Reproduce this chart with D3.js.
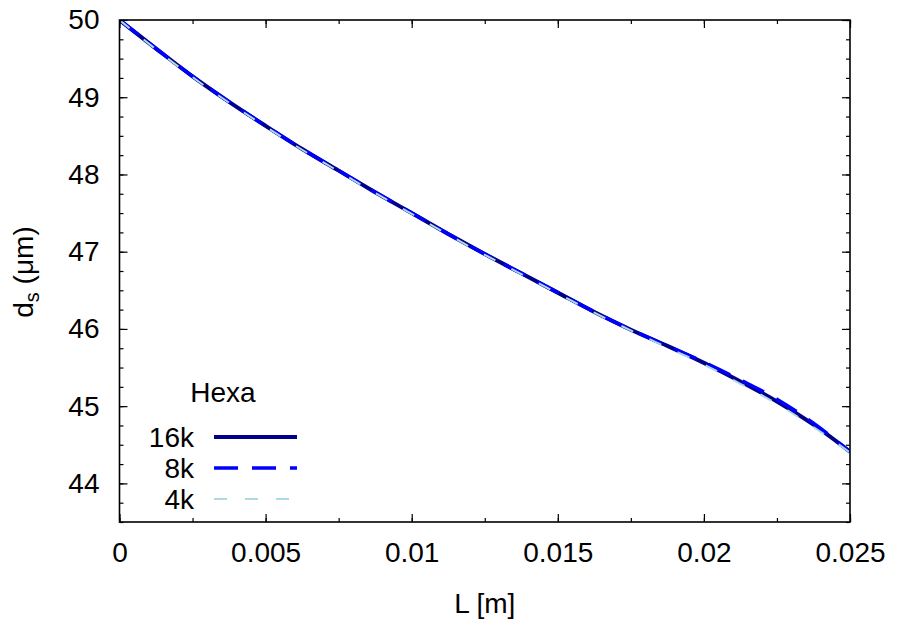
<!DOCTYPE html>
<html><head><meta charset="utf-8">
<script src="https://cdnjs.cloudflare.com/ajax/libs/d3/7.8.5/d3.min.js"></script>
<style>body{margin:0;background:#fff}svg{display:block}text{font-family:"Liberation Sans",Arial,sans-serif;fill:#000}</style>
</head><body>
<svg id="c" width="898" height="621"></svg>
<script>
const L = [0, 0.00125, 0.0025, 0.00375, 0.005, 0.00625, 0.0075, 0.00875, 0.01, 0.01125, 0.0125, 0.01375, 0.015, 0.01625, 0.0175, 0.01875, 0.02, 0.02125, 0.0225, 0.02375, 0.025];
const d16k = [50, 49.63, 49.27, 48.94, 48.63, 48.33, 48.05, 47.77, 47.50, 47.23, 46.97, 46.72, 46.47, 46.22, 45.99, 45.78, 45.56, 45.32, 45.06, 44.76, 44.41];
const d8k  = [50, 49.63, 49.27, 48.94, 48.63, 48.33, 48.05, 47.77, 47.50, 47.23, 46.97, 46.72, 46.47, 46.22, 45.99, 45.78, 45.57, 45.34, 45.09, 44.78, 44.41];
const d4k  = [50, 49.62, 49.26, 48.93, 48.62, 48.32, 48.04, 47.76, 47.49, 47.22, 46.96, 46.71, 46.46, 46.21, 45.98, 45.76, 45.54, 45.29, 45.03, 44.73, 44.40];
const xTicks = [0, 0.005, 0.01, 0.015, 0.02, 0.025];
const xTickLabels = ["0", "0.005", "0.01", "0.015", "0.02", "0.025"];
const yTicks = [44, 45, 46, 47, 48, 49, 50];
const seriesNames = ["16k", "8k", "4k"];

const FS = 28;
const svg = d3.select("#c");
const m = {l: 119.5, r: 850, t: 20, b: 522};
const x = d3.scaleLinear().domain([0, 0.025]).range([m.l, m.r]);
const y = d3.scaleLinear().domain([43.5, 50]).range([m.b, m.t]);

svg.append("defs").append("clipPath").attr("id","clip").append("rect")
  .attr("x", m.l).attr("y", m.t).attr("width", m.r-m.l).attr("height", m.b-m.t);

const series = [
  {name: seriesNames[0], vals: d16k, color: "#00008b", w: 4, dash: null},
  {name: seriesNames[1], vals: d8k, color: "#0000ff", w: 3.5, dash: "24,14"},
  {name: seriesNames[2], vals: d4k, color: "#add8e6", w: 2, dash: "13,18"}
];
const line = d3.line().x((d,i)=>x(L[i])).y(d=>y(d)).curve(d3.curveMonotoneX);
const g = svg.append("g").attr("clip-path","url(#clip)");
series.forEach(s=>{
  g.append("path").attr("d", line(s.vals)).attr("fill","none")
    .attr("stroke", s.color).attr("stroke-width", s.w)
    .attr("stroke-dasharray", s.dash);
});

const xMinor = d3.range(0, 0.0251, 0.0025);
const yMinor = d3.range(43.5, 50.01, 0.25);
const axG = svg.append("g");
const axB = d3.axisBottom(x).tickValues(xTicks).tickSize(-8).tickFormat((d,i)=>xTickLabels[i]).tickPadding(20);
const ab = axG.append("g").attr("transform",`translate(0,${m.b})`).call(axB);
ab.selectAll("text").attr("font-size", FS).attr("font-family","Liberation Sans, Arial, sans-serif");
const axT = d3.axisTop(x).tickValues(xTicks).tickSize(-8).tickFormat("");
axG.append("g").attr("transform",`translate(0,${m.t})`).call(axT);
const axL = d3.axisLeft(y).tickValues(yTicks).tickSize(-8).tickFormat(d3.format("d")).tickPadding(20);
const al = axG.append("g").attr("transform",`translate(${m.l},0)`).call(axL);
al.selectAll("text").attr("font-size", FS).attr("font-family","Liberation Sans, Arial, sans-serif");
const axR = d3.axisRight(y).tickValues(yTicks).tickSize(-8).tickFormat("");
axG.append("g").attr("transform",`translate(${m.r},0)`).call(axR);
axG.append("g").attr("transform",`translate(0,${m.b})`).call(d3.axisBottom(x).tickValues(xMinor).tickSize(-4).tickFormat(""));
axG.append("g").attr("transform",`translate(0,${m.t})`).call(d3.axisTop(x).tickValues(xMinor).tickSize(-4).tickFormat(""));
axG.append("g").attr("transform",`translate(${m.l},0)`).call(d3.axisLeft(y).tickValues(yMinor).tickSize(-4).tickFormat(""));
axG.append("g").attr("transform",`translate(${m.r},0)`).call(d3.axisRight(y).tickValues(yMinor).tickSize(-4).tickFormat(""));
axG.selectAll(".domain").remove();
axG.selectAll(".tick line").attr("stroke","#000").attr("stroke-width",1.2);
svg.append("rect").attr("x", m.l).attr("y", m.t).attr("width", m.r-m.l).attr("height", m.b-m.t)
  .attr("fill","none").attr("stroke","#000").attr("stroke-width",1.6);

svg.append("text").attr("x", (m.l+m.r)/2).attr("y", 613).attr("text-anchor","middle")
  .attr("font-size", FS).text("L [m]");
const yt = svg.append("text").attr("transform","translate(33,272) rotate(-90)")
  .attr("text-anchor","middle").attr("font-size", FS);
yt.append("tspan").text("d");
yt.append("tspan").attr("font-size", 20).attr("dy", 6).text("s");
yt.append("tspan").attr("dy", -6).text(" (μm)");

const lg = svg.append("g");
lg.append("text").attr("x", 223).attr("y", 402).attr("text-anchor","middle").attr("font-size",FS).text("Hexa");
const ly = [437, 468, 499];
series.forEach((s,i)=>{
  lg.append("text").attr("x", 194).attr("y", ly[i]+9.5).attr("text-anchor","end").attr("font-size",FS).text(s.name);
  lg.append("line").attr("x1", 214).attr("x2", 297).attr("y1", ly[i]).attr("y2", ly[i])
    .attr("stroke", s.color).attr("stroke-width", s.w).attr("stroke-dasharray", s.dash);
});
</script>
</body></html>
